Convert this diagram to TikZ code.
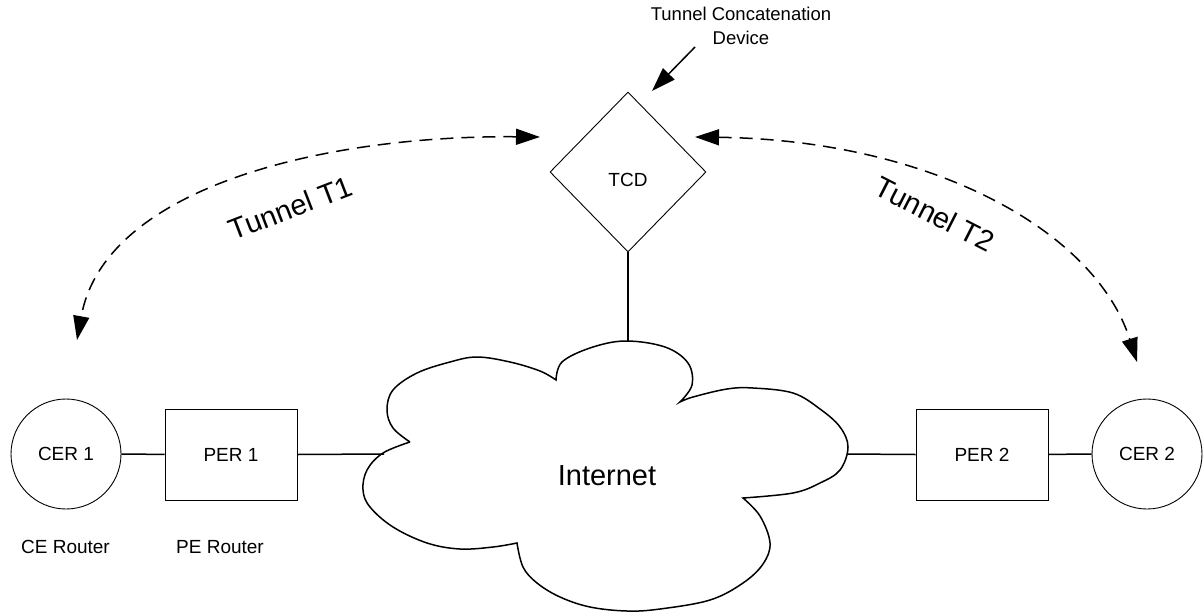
\documentclass[tikz,border=0pt]{standalone}
\usepackage{fontspec}
\setmainfont{Liberation Sans}
\usetikzlibrary{arrows.meta,shapes.geometric}
\begin{document}
\begin{tikzpicture}[x=1pt,y=-1pt,
  small/.style={font=\fontsize{19}{23}\selectfont},
  big/.style={font=\fontsize{29}{34}\selectfont},
  thinshape/.style={draw, line width=0.9pt, inner sep=0pt, small},
  router/.style={thinshape, circle, minimum size=110pt},
  pebox/.style={thinshape, rectangle, minimum width=132pt, minimum height=91pt},
  link/.style={line width=1.5pt},
  headtip/.style={-{Triangle[length=24pt,width=16pt]}},
  tunnel/.style={line width=1.5pt, dash pattern=on 13pt off 8pt,
     {Triangle[length=24pt,width=16pt]}-{Triangle[length=24pt,width=16pt]}}]
\useasboundingbox (0,0) rectangle (1204,613);

% nodes
\node[router] (cer1) at (66,454) {CER 1};
\node[pebox] (per1) at (231,454.5) {PER 1};
\node[pebox] (per2) at (982,454.5) {PER 2};
\node[router] (cer2) at (1147,454) {CER 2};
\node[thinshape, diamond, aspect=0.975, minimum width=156pt, minimum height=160pt,
      label={[small, yshift=-8pt]center:TCD}] (tcd) at (628,172) {};
\node[big] (inet) at (607,476) {Internet};

% labels
\node[small] (ce) at (65.5,547) {CE Router};
\node[small] (pe) at (220,547) {PE Router};
\node[font=\fontsize{18.5}{24.5}\selectfont, align=center, inner sep=0pt] (tcdlbl) at (741,26)
   {Tunnel Concatenation\\Device};
\node[big, rotate=21, inner sep=0pt] (t1lbl) at (290.7,208) {Tunnel T1};
\node[big, rotate=-27, inner sep=0pt] (t2lbl) at (935,214) {Tunnel T2};

% cloud
\draw[link, line join=miter]
 plot[smooth, tension=0.6] coordinates {(410,442) (393,428) (387,410) (393,390) (417,373) (450,362) (477,357) (510,362) (540,371) (556,380)}
 -- plot[smooth, tension=0.6] coordinates {(556,380) (562,362) (590,348) (625,341) (665,347) (688,363) (692,385) (680,402)}
 -- plot[smooth, tension=0.6] coordinates {(680,402) (693,397) (727,389) (753,388) (793,393) (820,409) (840,427) (848,447) (840,470) (820,483) (793,493) (743,498)}
 -- plot[smooth, tension=0.6] coordinates {(743,498) (760,516) (770,543) (763,564) (743,583) (710,600) (660,609) (627,611) (590,607) (560,597) (537,583) (523,567) (517,543)}
 -- plot[smooth, tension=0.6] coordinates {(517,543) (493,547) (460,549) (427,543) (393,527) (370,507) (363,490) (367,470) (383,453) (410,442)};

\coordinate (cloudW) at (384,454);
\coordinate (cloudE) at (847,454);
\coordinate (cloudN) at (628,341.5);

% links
\draw[link] (cer1) -- (per1);
\draw[link] (per1.east) -- (cloudW);
\draw[link] (cloudE) -- (per2.west);
\draw[link] (per2) -- (cer2);
\draw[link] (tcd.south) -- (cloudN);

% pointer to TCD
\coordinate (ptrA) at (695,47);
\coordinate (ptrB) at (652,91);
\draw[link, headtip] (ptrA) -- (ptrB);

% tunnels
\coordinate (t1a) at (540,137);
\coordinate (t1b) at (77,340);
\draw[tunnel] (t1a) .. controls (330,135) and (105,185) .. (t1b);
\coordinate (t2a) at (695,137);
\coordinate (t2b) at (1137,362);
\draw[tunnel] (t2a) .. controls (930,140) and (1095,230) .. (t2b);
\end{tikzpicture}
\end{document}
